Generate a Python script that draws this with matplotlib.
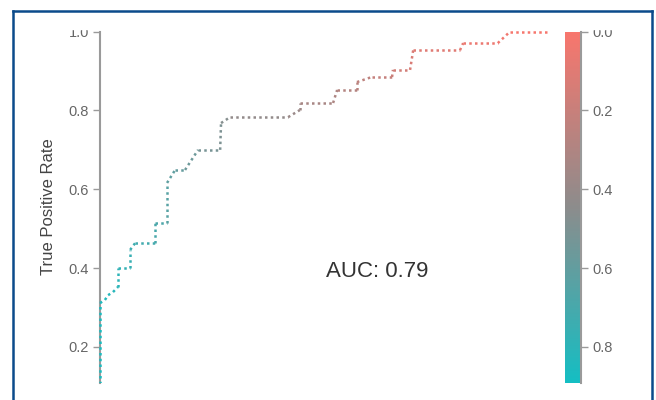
import numpy as np
import matplotlib
matplotlib.use('Agg')
import matplotlib.pyplot as plt
from matplotlib.collections import LineCollection
from matplotlib.colors import LinearSegmentedColormap, Normalize
from matplotlib.cm import ScalarMappable
from matplotlib.patches import Rectangle
from matplotlib.lines import Line2D

plt.rcParams['font.family'] = ['Liberation Sans', 'DejaVu Sans']

# roc curve points and the threshold that produced each one
fpr = [0.0, 0.0, 0.011, 0.018, 0.029, 0.040, 0.040, 0.067, 0.067, 0.078,
       0.122, 0.122, 0.149, 0.149, 0.167, 0.189, 0.218, 0.267, 0.269, 0.289,
       0.418, 0.444, 0.444, 0.518, 0.527, 0.571, 0.571, 0.604, 0.649, 0.651,
       0.689, 0.696, 0.800, 0.807, 0.884, 0.911, 1.0]
tpr = [0.0, 0.311, 0.319, 0.331, 0.339, 0.352, 0.400, 0.400, 0.446, 0.463,
       0.463, 0.514, 0.514, 0.616, 0.649, 0.649, 0.700, 0.700, 0.768, 0.783,
       0.783, 0.801, 0.819, 0.819, 0.852, 0.852, 0.872, 0.885, 0.885, 0.903,
       0.903, 0.953, 0.953, 0.971, 0.971, 1.0, 1.0]
thresholds = [0.95, 0.87, 0.85, 0.84, 0.83, 0.82, 0.80, 0.78, 0.76, 0.74,
              0.72, 0.70, 0.68, 0.64, 0.61, 0.59, 0.56, 0.52, 0.50, 0.47,
              0.42, 0.39, 0.37, 0.33, 0.31, 0.28, 0.26, 0.24, 0.21, 0.19,
              0.16, 0.13, 0.10, 0.08, 0.05, 0.03, 0.01]
auc_label = 'AUC: 0.79'
tpr_ticks = [0.2, 0.4, 0.6, 0.8, 1.0]
threshold_ticks = [0.0, 0.2, 0.4, 0.6, 0.8]

W, H = 656, 400
ylow = 0.108
tmax = 0.892

cmap = LinearSegmentedColormap.from_list('roc', ['#F8766D', '#8C8C8C', '#14BEC3'])
norm = Normalize(vmin=0, vmax=tmax)

fig = plt.figure(figsize=(W / 100, H / 100), dpi=100)
ax = fig.add_axes([100 / W, 1 - 383 / H, 450 / W, (383 - 31.7) / H])

pts = np.column_stack([fpr, tpr])
segs = np.stack([pts[:-1], pts[1:]], axis=1)
lc = LineCollection(segs, colors=cmap(norm(np.array(thresholds[1:]))),
                    linewidths=1.8, linestyles=[(0, (1.0, 1.3))], zorder=3)
ax.add_collection(lc)
clip = Rectangle((-0.05, ylow), 1.1, 1.0, transform=ax.transData)
lc.set_clip_path(clip)

ax.set_xlim(0, 1)
ax.set_ylim(ylow, 1.0)
ax.set_xticks([])
ax.set_yticks(tpr_ticks)
ax.set_yticklabels([f'{t:.1f}' for t in tpr_ticks])
for s in ['top', 'right', 'bottom']:
    ax.spines[s].set_visible(False)
ax.spines['left'].set_color('#9a9a9a')
ax.spines['left'].set_linewidth(1.5)
ax.tick_params(axis='y', colors='#9a9a9a', length=5, width=1, pad=3,
               labelsize=10.5, labelcolor='#666666')

ax.text(0.616, 0.390, auc_label, ha='center', va='center', fontsize=16,
        color='#333333')

fig.text(49 / W, 1 - 207 / H, 'True Positive Rate', rotation=90, ha='center',
         va='center', fontsize=12, color='#444444')

# threshold colour bar
cax = fig.add_axes([565 / W, 1 - 383 / H, 16 / W, (383 - 31.7) / H])
sm = ScalarMappable(norm=norm, cmap=cmap)
cbar = fig.colorbar(sm, cax=cax, ticks=threshold_ticks)
cbar.outline.set_visible(False)
cax.invert_yaxis()
cax.set_yticklabels([f'{t:.1f}' for t in threshold_ticks])
cax.tick_params(colors='#9a9a9a', length=5, width=1, pad=3, labelsize=10.5,
                labelcolor='#666666')
cax.plot([1, 1], [0, 1], transform=cax.transAxes, color='#9a9a9a', lw=1.5,
         clip_on=False)

# panel frame, cut off at the bottom
fig.add_artist(Rectangle((14 / W, 1 - 29.3 / H), 637 / W, 16.8 / H,
                         transform=fig.transFigure, color='white', zorder=5))
navy = '#0b4a8b'
for xs, ys in [([13, 13], [11, 400]), ([13, 652], [11, 11]), ([652, 652], [11, 400])]:
    fig.add_artist(Line2D([x / W for x in xs], [1 - y / H for y in ys],
                          transform=fig.transFigure, color=navy, lw=1.8,
                          zorder=6))

fig.savefig('out.png', dpi=100)
